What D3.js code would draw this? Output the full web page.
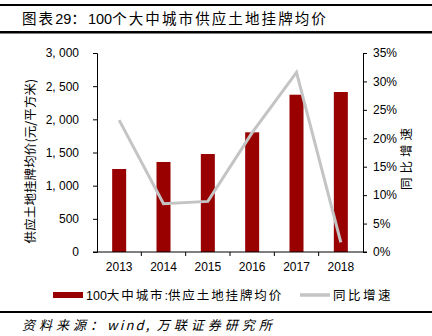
<!DOCTYPE html>
<html><head><meta charset="utf-8">
<script src="https://cdn.jsdelivr.net/npm/d3@7"></script>
<style>body{margin:0;background:#fff}svg{display:block}</style>
</head><body>
<svg id="c" width="432" height="336"></svg>
<script>
const categories = ["2013","2014","2015","2016","2017","2018"];
const priceValues = [1251, 1357, 1477, 1804, 2371, 2412];
const growthValues = [0.232, 0.085, 0.089, 0.21, 0.316, 0.017];
const leftTicks = [0,500,1000,1500,2000,2500,3000];
const rightTicks = [0,0.05,0.10,0.15,0.20,0.25,0.30,0.35];
const title = "图表29：100个大中城市供应土地挂牌均价";
const source = "资料来源：wind, 万联证券研究所";
const barName = "100大中城市:供应土地挂牌均价";
const lineName = "同比增速";
const leftTitle = "供应土地挂牌均价(元/平方米)";

const svg = d3.select("#c");
const font = "'Liberation Sans', Arial, 'Noto Sans CJK SC', sans-serif";
const cjk = "'Noto Sans CJK SC', sans-serif";
const L = 97, R = 363, T = 53, B = 252;

// text with letter spacing: sp for CJK runs, sp2 for others
function spacedText(sel, str, sp, sp2 = 0) {
  const runs = str.match(/[\u3000-\u9fff\uff00-\uffef]+|[^\u3000-\u9fff\uff00-\uffef]+/g);
  runs.forEach(r => {
    const isCjk = /[\u3000-\u9fff\uff00-\uffef]/.test(r);
    sel.append("tspan").attr("letter-spacing", isCjk ? sp : sp2)
      .attr("xml:space","preserve").style("white-space","pre").text(r);
  });
  return sel;
}

// frame lines
svg.append("rect").attr("x",0).attr("y",4).attr("width",432).attr("height",2).attr("fill","#000");
svg.append("rect").attr("x",0).attr("y",31).attr("width",432).attr("height",2.5).attr("fill","#000");
svg.append("rect").attr("x",0).attr("y",311).attr("width",432).attr("height",2).attr("fill","#000");
spacedText(svg.append("text").attr("x",22).attr("y",24).attr("font-family",font).attr("font-size",14.5)
  .attr("fill","#000"), title, 2.1);
spacedText(svg.append("text").attr("x",22).attr("y",330).attr("font-family",cjk).attr("font-size",13)
  .attr("font-style","italic").attr("fill","#000").style("white-space","pre"), source, 4.0, 2.2);

const x = d3.scaleBand().domain(categories).range([L,R]);
const yL = d3.scaleLinear().domain([0,3000]).range([B,T]);
const yR = d3.scaleLinear().domain([0,0.35]).range([B,T]);

// bars
svg.append("g").selectAll("rect").data(categories).join("rect")
  .attr("x",d=>x(d)+x.bandwidth()/2-7).attr("width",14)
  .attr("y",(d,i)=>yL(priceValues[i])).attr("height",(d,i)=>B-yL(priceValues[i]))
  .attr("fill","#990000");

// line
const line = d3.line().x((d,i)=>x(categories[i])+x.bandwidth()/2).y(d=>yR(d));
svg.append("path").datum(growthValues).attr("d",line).attr("fill","none")
  .attr("stroke","#c4c4c4").attr("stroke-width",3);

// axes
const fmtL = v => d3.format(",")(v).replace(",", ", ");
const gL = svg.append("g").attr("transform",`translate(${L},0)`)
  .call(d3.axisLeft(yL).tickValues(leftTicks).tickFormat(fmtL).tickSize(4).tickPadding(14));
const gR = svg.append("g").attr("transform",`translate(${R},0)`)
  .call(d3.axisRight(yR).tickValues(rightTicks).tickFormat(d3.format(".0%")).tickSize(4).tickPadding(6));
const gX = svg.append("g").attr("transform",`translate(0,${B})`)
  .call(d3.axisBottom(x).tickSize(0).tickPadding(10));
svg.append("g").selectAll("line").data(categories.slice(1)).join("line")
  .attr("x1",d=>x(d)).attr("x2",d=>x(d)).attr("y1",B).attr("y2",B+4).attr("stroke","#000");
svg.append("line").attr("x1",L-4).attr("x2",R+4).attr("y1",B).attr("y2",B).attr("stroke","#000");
[gL,gR,gX].forEach(g=>{
  g.selectAll("text").attr("font-family",font).attr("font-size",12).attr("fill","#000");
  g.selectAll(".domain").attr("stroke","#000");
  g.selectAll(".tick line").attr("stroke","#000");
});
gX.select(".domain").remove();

// axis titles
svg.append("text").attr("transform","translate(35,161) rotate(-90)").attr("text-anchor","middle")
  .attr("font-family",cjk).attr("font-size",12.5).attr("letter-spacing",0.1).attr("fill","#000").text(leftTitle);
svg.append("text").attr("transform","translate(411,157) rotate(-90)").attr("text-anchor","middle")
  .attr("font-family",cjk).attr("font-size",12.5).attr("letter-spacing",4).attr("fill","#000").text(lineName);

// legend
svg.append("rect").attr("x",53).attr("y",292).attr("width",30).attr("height",6).attr("fill","#990000");
spacedText(svg.append("text").attr("x",86).attr("y",299.5).attr("font-family",font).attr("font-size",12.5)
  .attr("fill","#000"), barName, 1.9);
svg.append("line").attr("x1",300).attr("x2",330).attr("y1",295).attr("y2",295).attr("stroke","#c4c4c4").attr("stroke-width",3.5);
svg.append("text").attr("x",333).attr("y",299.5).attr("font-family",cjk).attr("font-size",12.5)
  .attr("letter-spacing",2.5).attr("fill","#000").text(lineName);
</script>
</body></html>
